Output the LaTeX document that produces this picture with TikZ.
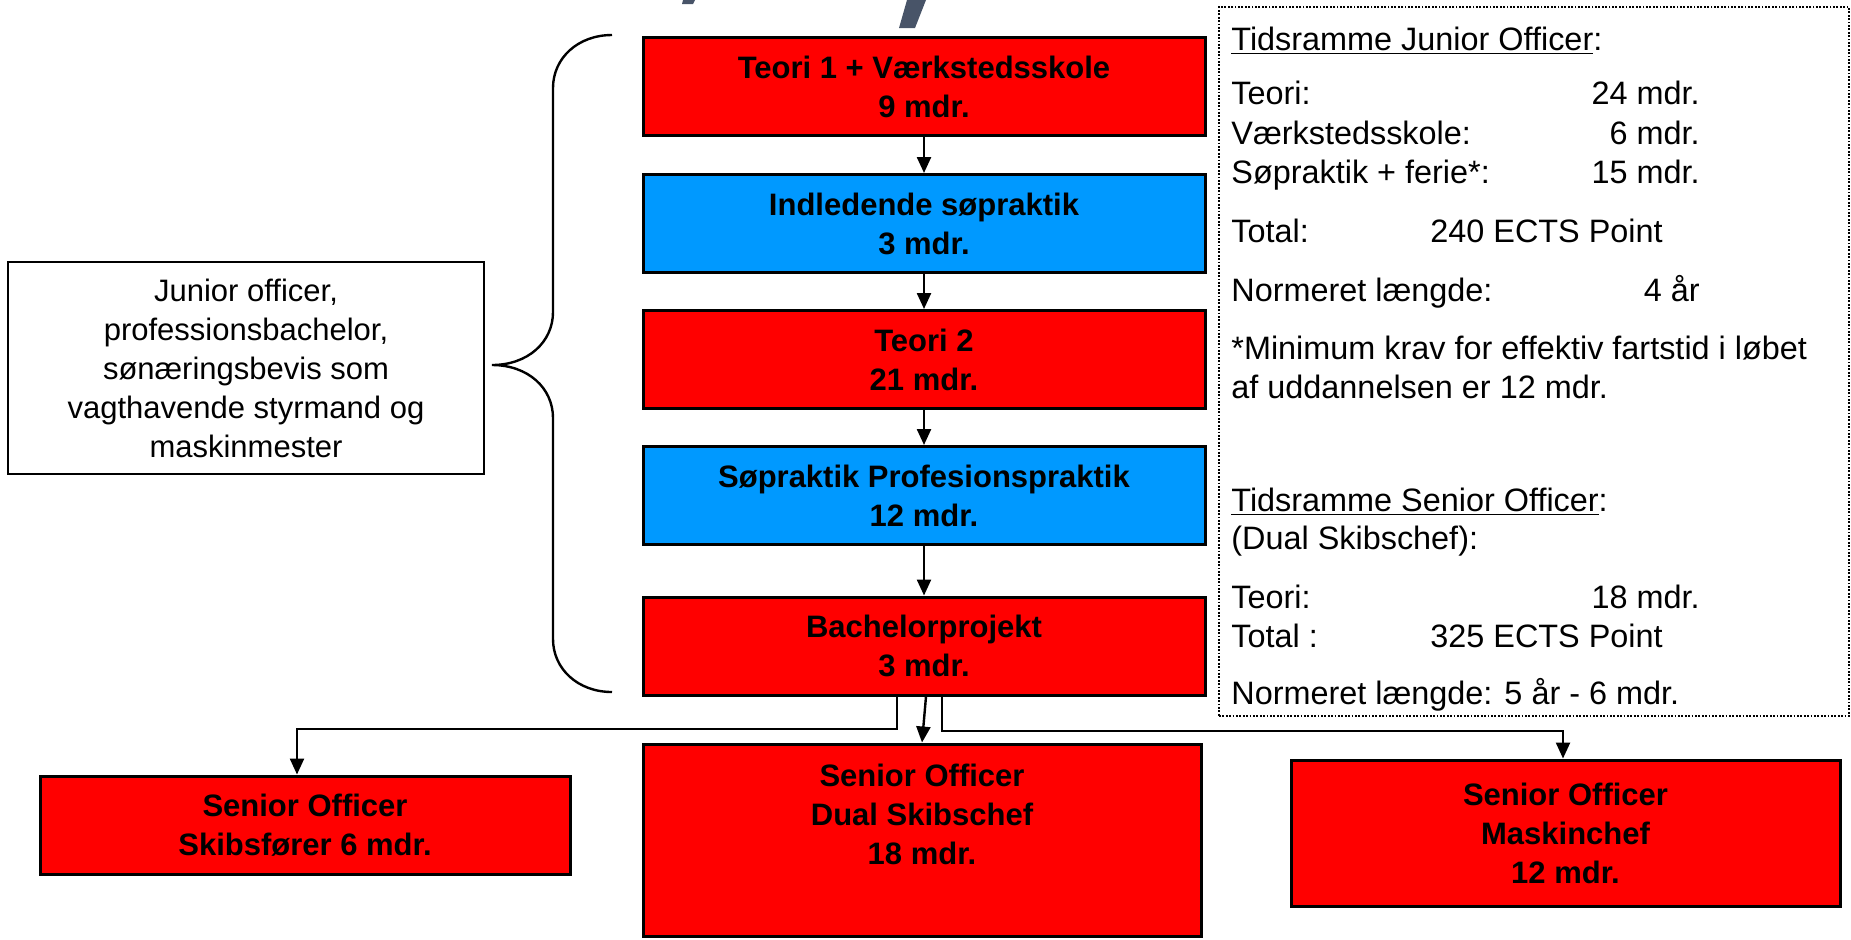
\documentclass[tikz,border=0pt]{standalone}
\usepackage{fontspec}
\setmainfont{Liberation Sans}
\usetikzlibrary{arrows.meta,calc}
\definecolor{boxred}{RGB}{255,0,0}
\definecolor{boxblue}{RGB}{0,153,255}
\definecolor{titlegray}{RGB}{72,84,104}
\tikzset{
  stage/.style={draw=black, line width=1.5pt, inner sep=0pt, align=center,
    font=\fontsize{15.5}{19.5}\selectfont\bfseries},
  mainstage/.style={stage, minimum width=281pt, minimum height=49pt},
  redstage/.style={mainstage, fill=boxred},
  bluestage/.style={mainstage, fill=boxblue},
  conn/.style={line width=1.2pt, -{Triangle[length=8pt,width=7pt]}},
  plainline/.style={line width=1.2pt},
  paneltxt/.style={font=\fontsize{16.2}{19.5}\selectfont, inner sep=0pt},
  boxtxt/.style={align=center, inner sep=0pt, font=\fontsize{15.5}{19.5}\selectfont\bfseries},
}
\begin{document}
\begin{tikzpicture}[x=0.5pt,y=-0.5pt]
\useasboundingbox (0,0) rectangle (1851,939);

% cut-off title fragments
\fill[titlegray] (683,0) -- (695,0) -- (693,4) -- (682,4) -- cycle;
\fill[titlegray] (907,0) -- (926,0) -- (915,28) -- (899,28) -- cycle;

% main column
\node[redstage]  (b1) at (924,86.5) {Teori 1 + Værkstedsskole\\9 mdr.};
\node[bluestage] (b2) at (924,223.5) {Indledende søpraktik\\3 mdr.};
\node[redstage]  (b3) at (924,359.5) {Teori 2\\21 mdr.};
\node[bluestage] (b4) at (924,495.5) {Søpraktik Profesionspraktik\\12 mdr.};
\node[redstage]  (b5) at (924,646) {Bachelorprojekt\\3 mdr.};

\draw[conn] (b1) -- (b2);
\draw[conn] (b2) -- (b3);
\draw[conn] (b3) -- (b4);
\draw[conn] (b4) -- (b5);

% left description box
\node[draw=black, line width=1.2pt, minimum width=238pt, minimum height=106pt,
      align=center, inner sep=0pt, font=\fontsize{15.5}{19.5}\selectfont] (jr) at (246,368)
  {Junior officer,\\professionsbachelor,\\sønæringsbevis som\\vagthavende styrmand og\\maskinmester};

% brace
\coordinate (tip) at (492,365);
\draw[plainline] (612,35) .. controls (578,35) and (553,58) .. (553,88)
  -- (553,312) .. controls (553,342) and (528,365) .. (tip)
  .. controls (528,365) and (553,388) .. (553,418)
  -- (553,639) .. controls (553,669) and (578,692) .. (612,692);

% bottom boxes
\node[stage, fill=boxred, minimum width=265pt, minimum height=49pt] (skib) at (305,825)
  {Senior Officer\\Skibsfører 6 mdr.};
\node[stage, fill=boxred, minimum width=279pt, minimum height=96pt] (dual) at (922,840) {};
\node[boxtxt] (dualtxt) at (922,814) {Senior Officer\\Dual Skibschef\\18 mdr.};
\node[stage, fill=boxred, minimum width=274.5pt, minimum height=73pt] (mask) at (1565.5,833)
  {Senior Officer\\Maskinchef\\12 mdr.};

% connectors from Bachelorprojekt
\coordinate (la) at (897,729);
\coordinate (lb) at (297,729);
\draw[conn] (b5.south -| la) -- (la) -- (lb) -- (lb |- skib.north);
\coordinate (ma) at (926,0);
\coordinate (mb) at (922,0);
\draw[conn] (b5.south -| ma) -- (dual.north -| mb);
\coordinate (ra) at (942,731);
\coordinate (rb) at (1563,731);
\draw[conn] (b5.south -| ra) -- (ra) -- (rb) -- (rb |- mask.north);

% right panel
\node[draw=black, line width=0.9pt, dash pattern=on 0.9pt off 0.8pt,
      minimum width=315pt, minimum height=354.5pt, inner sep=0pt] (panel) at (1534,361.5) {};

\node[paneltxt, anchor=base west] (t1) at (1231,50) {\underline{Tidsramme Junior Officer}:};
\node[paneltxt, anchor=base west] (t2) at (1231,104) {Teori:};
\node[paneltxt, anchor=base east] (v2) at (1700,104) {24 mdr.};
\node[paneltxt, anchor=base west] (t3) at (1231,144) {Værkstedsskole:};
\node[paneltxt, anchor=base east] (v3) at (1700,144) {6 mdr.};
\node[paneltxt, anchor=base west] (t4) at (1231,183) {Søpraktik + ferie*:};
\node[paneltxt, anchor=base east] (v4) at (1700,183) {15 mdr.};
\node[paneltxt, anchor=base west] (t5) at (1231,242) {Total:};
\node[paneltxt, anchor=base west] (v5) at (1430,242) {240 ECTS Point};
\node[paneltxt, anchor=base west] (t6) at (1231,301) {Normeret længde:};
\node[paneltxt, anchor=base east] (v6) at (1700,301) {4 år};
\node[paneltxt, anchor=base west] (t7) at (1231,359) {*Minimum krav for effektiv fartstid i løbet};
\node[paneltxt, anchor=base west] (t8) at (1231,398) {af uddannelsen er 12 mdr.};

\node[paneltxt, anchor=base west] (s1) at (1231,511) {\underline{Tidsramme Senior Officer}:};
\node[paneltxt, anchor=base west] (s2) at (1231,549) {(Dual Skibschef):};
\node[paneltxt, anchor=base west] (s3) at (1231,608) {Teori:};
\node[paneltxt, anchor=base east] (w3) at (1700,608) {18 mdr.};
\node[paneltxt, anchor=base west] (s4) at (1231,647) {Total :};
\node[paneltxt, anchor=base west] (w4) at (1430,647) {325 ECTS Point};
\node[paneltxt, anchor=base west] (s5) at (1231,704) {Normeret længde: 5 år - 6 mdr.};
\end{tikzpicture}
\end{document}
